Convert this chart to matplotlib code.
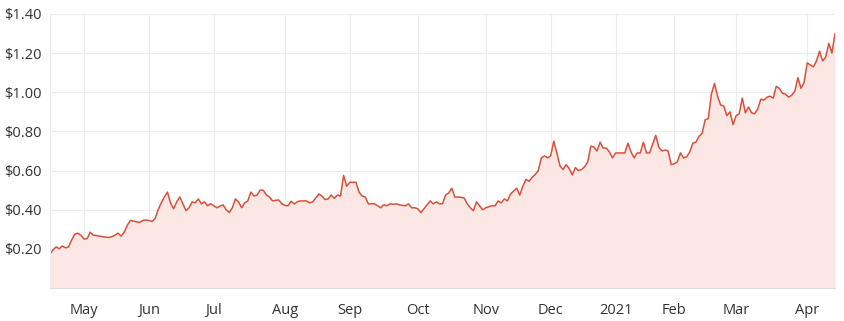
import numpy as np
import pandas as pd
import matplotlib
matplotlib.use('Agg')
import matplotlib.pyplot as plt

plt.rcParams['font.family'] = ['Open Sans', 'DejaVu Sans']

# ASX trading days, 16 Apr 2020 - 16 Apr 2021
start_date = '2020-04-16'
end_date = '2021-04-16'
holidays = ['2020-06-08', '2020-12-25', '2020-12-28',
            '2021-01-01', '2021-01-26', '2021-04-02', '2021-04-05']

# closing prices ($), one per trading day
prices = [
    0.174, 0.195, 0.21, 0.20, 0.215, 0.205, 0.21, 0.245, 0.275, 0.28,
    0.27, 0.25, 0.252, 0.285, 0.27, 0.268, 0.265, 0.262, 0.26, 0.258,
    0.262, 0.27, 0.28, 0.265, 0.285, 0.32, 0.345, 0.342, 0.338, 0.335,
    0.345, 0.347, 0.345, 0.34, 0.355, 0.40, 0.435, 0.465, 0.49, 0.435,
    0.405, 0.44, 0.465, 0.43, 0.395, 0.41, 0.44, 0.435, 0.455, 0.43,
    0.44, 0.42, 0.43, 0.42, 0.41, 0.418, 0.425, 0.40, 0.385, 0.41,
    0.455, 0.44, 0.41, 0.435, 0.445, 0.49, 0.47, 0.475, 0.50, 0.50,
    0.475, 0.465, 0.445, 0.448, 0.45, 0.43, 0.422, 0.42, 0.443, 0.43,
    0.44, 0.445, 0.445, 0.445, 0.435, 0.44, 0.46, 0.48, 0.47, 0.452,
    0.455, 0.475, 0.458, 0.475, 0.47, 0.575, 0.52, 0.54, 0.54, 0.54,
    0.49, 0.47, 0.465, 0.43, 0.43, 0.43, 0.42, 0.41, 0.425, 0.42,
    0.43, 0.428, 0.43, 0.425, 0.422, 0.42, 0.43, 0.41, 0.41, 0.405,
    0.385, 0.405, 0.425, 0.445, 0.43, 0.44, 0.43, 0.43, 0.475, 0.485,
    0.51, 0.465, 0.465, 0.463, 0.46, 0.43, 0.41, 0.395, 0.44, 0.42,
    0.40, 0.41, 0.415, 0.42, 0.42, 0.445, 0.435, 0.455, 0.445, 0.48,
    0.495, 0.51, 0.475, 0.52, 0.555, 0.545, 0.565, 0.58, 0.60, 0.665,
    0.675, 0.665, 0.675, 0.75, 0.69, 0.625, 0.605, 0.63, 0.61, 0.578,
    0.615, 0.60, 0.605, 0.62, 0.645, 0.725, 0.72, 0.70, 0.745, 0.715,
    0.715, 0.695, 0.665, 0.69, 0.69, 0.69, 0.69, 0.74, 0.695, 0.665,
    0.69, 0.69, 0.745, 0.69, 0.69, 0.735, 0.78, 0.72, 0.70, 0.705,
    0.70, 0.63, 0.635, 0.645, 0.69, 0.665, 0.67, 0.695, 0.74, 0.745,
    0.775, 0.79, 0.86, 0.865, 0.99, 1.045, 0.98, 0.935, 0.93, 0.88,
    0.90, 0.835, 0.88, 0.89, 0.97, 0.895, 0.925, 0.895, 0.89, 0.915,
    0.965, 0.96, 0.975, 0.98, 0.97, 1.03, 1.02, 0.995, 0.99, 0.975,
    0.985, 1.005, 1.075, 1.02, 1.05, 1.15, 1.14, 1.13, 1.16, 1.21,
    1.16, 1.18, 1.25, 1.20, 1.30,
]

y_ticks = [0.2, 0.4, 0.6, 0.8, 1.0, 1.2, 1.4]

dates = pd.bdate_range(start_date, end_date, freq='C', holidays=holidays)
s = pd.Series(prices, index=dates)
x = np.arange(len(s))

# first trading day of each month
month_starts = [i for i in range(1, len(dates)) if dates[i].month != dates[i - 1].month]
month_labels = ['2021' if dates[i].month == 1 else dates[i].strftime('%b') for i in month_starts]

fig = plt.figure(figsize=(8.44, 3.21), dpi=100)
ax = fig.add_axes([50 / 844, 33 / 321, 785 / 844, 274 / 321])

ax.fill_between(x, s.values, 0, color='#fde7e4', lw=0)
ax.plot(x, s.values, color='#d8503a', lw=1.1)

ax.set_xlim(0, len(s) - 1)
ax.set_ylim(0, 1.4)
ax.set_xticks(month_starts)
ax.set_xticklabels(month_labels)
ax.set_yticks([0] + y_ticks)
ax.set_yticklabels([''] + ['$%.2f' % v for v in y_ticks])
ax.grid(True, color='#ececec', lw=0.8)
ax.set_axisbelow(True)
ax.tick_params(length=0, labelsize=10.5, labelcolor='#333333')
ax.tick_params(axis='x', pad=11)
ax.tick_params(axis='y', pad=6)
for side in ['top', 'right']:
    ax.spines[side].set_visible(False)
ax.spines['left'].set_color('#ececec')
ax.spines['bottom'].set_color('#dddddd')

fig.savefig('out.png', dpi=100)
